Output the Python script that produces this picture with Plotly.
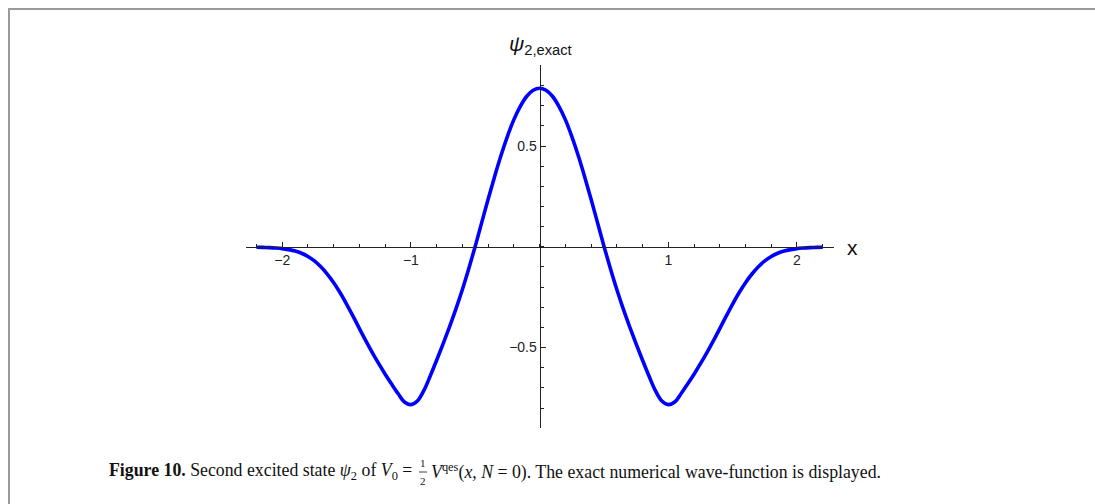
import plotly.graph_objects as go

W, H = 1095, 504

# Second excited state, exact numerical wave-function
x_vals = [
    -2.20, -2.15, -2.10, -2.05, -2.00, -1.95, -1.90, -1.85, -1.80, -1.75, -1.70,
    -1.65, -1.60, -1.55, -1.50, -1.45, -1.40, -1.35, -1.30, -1.25, -1.20, -1.15,
    -1.10, -1.05, -1.00, -0.95, -0.90, -0.85, -0.80, -0.75, -0.70, -0.65, -0.60,
    -0.55, -0.50, -0.45, -0.40, -0.35, -0.30, -0.25, -0.20, -0.15, -0.10, -0.05,
    0.00,
    0.05, 0.10, 0.15, 0.20, 0.25, 0.30, 0.35, 0.40, 0.45, 0.50, 0.55,
    0.60, 0.65, 0.70, 0.75, 0.80, 0.85, 0.90, 0.95, 1.00, 1.05, 1.10,
    1.15, 1.20, 1.25, 1.30, 1.35, 1.40, 1.45, 1.50, 1.55, 1.60, 1.65,
    1.70, 1.75, 1.80, 1.85, 1.90, 1.95, 2.00, 2.05, 2.10, 2.15, 2.20,
]
psi2_exact = [
    -0.002, -0.003, -0.004, -0.006, -0.009, -0.014, -0.021, -0.032, -0.048, -0.070, -0.099,
    -0.135, -0.178, -0.228, -0.284, -0.344, -0.406, -0.467, -0.525, -0.580, -0.632, -0.681,
    -0.728, -0.770, -0.783, -0.765, -0.714, -0.641, -0.563, -0.482, -0.397, -0.308, -0.212,
    -0.108, 0.003, 0.120, 0.236, 0.348, 0.453, 0.548, 0.631, 0.697, 0.747, 0.777,
    0.787,
    0.777, 0.747, 0.697, 0.631, 0.548, 0.453, 0.348, 0.236, 0.120, 0.003, -0.108,
    -0.212, -0.308, -0.397, -0.482, -0.563, -0.641, -0.714, -0.765, -0.783, -0.770, -0.728,
    -0.681, -0.632, -0.580, -0.525, -0.467, -0.406, -0.344, -0.284, -0.228, -0.178, -0.135,
    -0.099, -0.070, -0.048, -0.032, -0.021, -0.014, -0.009, -0.006, -0.004, -0.003, -0.002,
]

x_ticks = [-2, -1, 1, 2]
x_tick_text = ["\u22122", "\u22121", "1", "2"]
y_ticks = [-0.5, 0.5]
y_tick_text = ["\u22120.5", "0.5"]


def px_x(p):
    return p / W


def px_y(p):
    return 1 - p / H


AXIS_COLOR = "#222222"
SANS = "Liberation Sans, Arial, sans-serif"
SERIF = "Liberation Serif, Times New Roman, serif"
TICK_FONT = dict(family=SANS, size=14, color="#222222")

fig = go.Figure()
fig.add_trace(go.Scatter(
    x=x_vals, y=psi2_exact, mode="lines",
    line=dict(color="#0000ff", width=3.6, shape="spline", smoothing=1.0),
    hoverinfo="skip", showlegend=False,
))

# axes cross at the origin
origin_x = 539.6
origin_y = 246.8

fig.update_layout(
    width=W, height=H,
    margin=dict(l=0, r=0, t=0, b=0),
    paper_bgcolor="white", plot_bgcolor="white",
    xaxis=dict(
        domain=[px_x(245.8), px_x(834.3)], range=[-2.283, 2.29],
        anchor="free", position=px_y(origin_y), side="bottom",
        showgrid=False, zeroline=False,
        showline=True, linecolor=AXIS_COLOR, linewidth=1,
        tickvals=x_ticks, ticktext=x_tick_text,
        ticks="inside", ticklen=5, tickwidth=1, tickcolor=AXIS_COLOR,
        tickfont=TICK_FONT,
        minor=dict(dtick=0.2, tick0=0, ticks="inside", ticklen=3,
                   tickwidth=1, tickcolor=AXIS_COLOR, showgrid=False),
    ),
    yaxis=dict(
        domain=[px_y(428.2), px_y(65.4)], range=[-0.9, 0.9],
        anchor="free", position=px_x(origin_x), side="left",
        showgrid=False, zeroline=False,
        showline=True, linecolor=AXIS_COLOR, linewidth=1,
        tickvals=y_ticks, ticktext=y_tick_text,
        ticks="inside", ticklen=5, tickwidth=1, tickcolor=AXIS_COLOR,
        tickfont=TICK_FONT,
        minor=dict(dtick=0.1, tick0=0, ticks="inside", ticklen=3,
                   tickwidth=1, tickcolor=AXIS_COLOR, showgrid=False),
    ),
)

annotations = [
    dict(x=px_x(540), y=px_y(45), text="<i>ψ</i><sub>2,exact</sub>",
         font=dict(family=SANS, size=21, color="#111111")),
    dict(x=px_x(852), y=px_y(247), text="x",
         font=dict(family=SANS, size=21, color="#111111")),
]

# figure caption
cap_size = 17.8
cap_font = dict(family=SERIF, size=cap_size, color="#111111")
cap_y = 471
frac_x = 423
annotations += [
    dict(x=px_x(107), y=px_y(cap_y), xanchor="left",
         text="<b>Figure 10.</b> Second excited state <i>ψ</i><sub>2</sub> of "
              "<i>V</i><sub>0</sub> =",
         font=cap_font),
    dict(x=px_x(frac_x), y=px_y(463), text="1",
         font=dict(family=SERIF, size=11, color="#111111")),
    dict(x=px_x(frac_x), y=px_y(481), text="2",
         font=dict(family=SERIF, size=11, color="#111111")),
    dict(x=px_x(frac_x + 6), y=px_y(cap_y), xanchor="left",
         text="<i>V</i><sup>qes</sup>(<i>x</i>, <i>N</i> = 0). "
              "The exact numerical wave-function is displayed.",
         font=cap_font),
]
for a in annotations:
    a.setdefault("xref", "paper")
    a.setdefault("yref", "paper")
    a.setdefault("showarrow", False)
    a.setdefault("yanchor", "middle")
    a.setdefault("xanchor", "center")
fig.update_layout(annotations=annotations)

frame = dict(color="#9a9a9a", width=2)
fig.update_layout(shapes=[
    dict(type="line", xref="paper", yref="paper",
         x0=px_x(8), x1=1, y0=px_y(9), y1=px_y(9), line=frame),
    dict(type="line", xref="paper", yref="paper",
         x0=px_x(9), x1=px_x(9), y0=px_y(8), y1=0, line=frame),
    dict(type="line", xref="paper", yref="paper",
         x0=px_x(frac_x - 4), x1=px_x(frac_x + 4), y0=px_y(472), y1=px_y(472),
         line=dict(color="#111111", width=0.8)),
])

fig.write_html("out.html")
